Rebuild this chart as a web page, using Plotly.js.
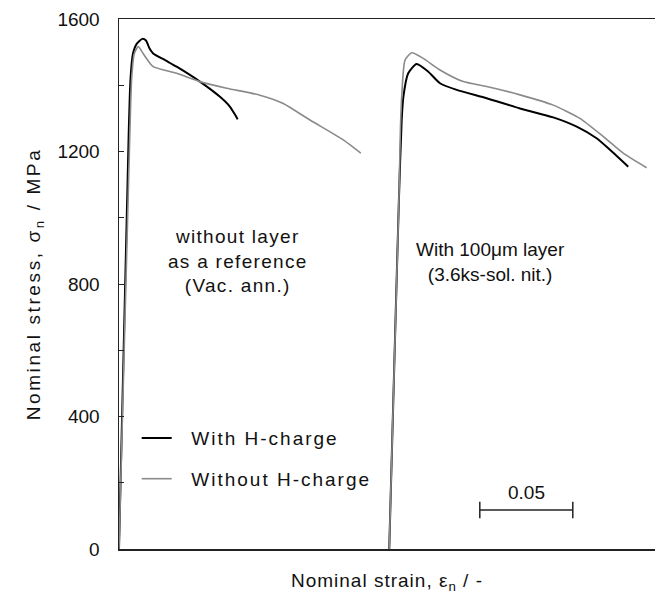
<!DOCTYPE html>
<html>
<head>
<meta charset="utf-8">
<script src="https://cdn.plot.ly/plotly-3.0.1.min.js"></script>
<style>
html,body{margin:0;padding:0;background:#fff;}
#chart{width:655px;height:596px;}
#chart .legendtext{letter-spacing:2px;}
#chart .legend .scrollbox{clip-path:none !important;}
#chart g.annotation[data-index="1"] .annotation-text{letter-spacing:1.3px;}
#chart .ytitle{letter-spacing:2.6px;}
#chart .xtitle{letter-spacing:1px;}
</style>
</head>
<body>
<div id="chart"></div>
<script>
// Group 1: without layer (reference, vacuum annealed)
const refHStrain = [0, 0.0052, 0.0062, 0.0075, 0.0095, 0.0125, 0.0145, 0.0165, 0.0184, 0.025, 0.031, 0.0435, 0.0543, 0.0597, 0.0625, 0.0638];
const refHStress = [0, 1250, 1420, 1495, 1525, 1540, 1535, 1510, 1496, 1475, 1456, 1411, 1365, 1335, 1310, 1297];
const refNoHStrain = [0, 0.0058, 0.0068, 0.0082, 0.0104, 0.0125, 0.0149, 0.0184, 0.031, 0.0435, 0.0579, 0.0758, 0.0883, 0.1027, 0.1206, 0.1300];
const refNoHStress = [0, 1250, 1420, 1495, 1517, 1500, 1480, 1456, 1436, 1411, 1391, 1370, 1345, 1295, 1235, 1195];
// Group 2: with 100 um layer (3.6ks solution nitriding)
const layHStrain = [0.1453, 0.1475, 0.1505, 0.152, 0.1529, 0.1555, 0.160, 0.1663, 0.1726, 0.1816, 0.1977, 0.2156, 0.2335, 0.2461, 0.2568, 0.264, 0.2738];
const layHStress = [0, 450, 1054, 1295, 1365, 1436, 1464, 1441, 1406, 1386, 1361, 1330, 1303, 1275, 1240, 1205, 1154];
const layNoHStrain = [0.1453, 0.1475, 0.1505, 0.1513, 0.152, 0.1538, 0.1574, 0.1636, 0.1726, 0.1851, 0.1977, 0.2156, 0.2335, 0.2478, 0.2604, 0.2711, 0.2837];
const layNoHStress = [0, 450, 1054, 1265, 1365, 1476, 1498, 1481, 1446, 1411, 1396, 1371, 1340, 1300, 1245, 1195, 1151];

const legendNames = ['With H-charge', 'Without H-charge'];
const yTickVals = [0, 400, 800, 1200, 1600];
const yTickText = ['0', '400', '800', '1200', '1600'];
const yMinorStep = 200;
const scaleBarStart = 0.194;
const scaleBarLength = 0.05;
const scaleBarStress = 118;
const scaleBarLabel = '0.05';

const black = '#000000', gray = '#8a8a8a';
const FONT = 'Liberation Sans, Arial, sans-serif';
const FS = 19;
const sp = '\u00a0\u00a0';
const pad = '\u00a0\u00a0\u00a0\u00a0\u00a0\u00a0';

const traces = [
  {x: refHStrain, y: refHStress, mode: 'lines', line: {color: black, width: 2, shape: 'spline', smoothing: 0.6}, name: sp + legendNames[0] + pad, legendgroup: 'h', showlegend: true},
  {x: layHStrain, y: layHStress, mode: 'lines', line: {color: black, width: 2, shape: 'spline', smoothing: 0.6}, name: legendNames[0], legendgroup: 'h', showlegend: false},
  {x: refNoHStrain, y: refNoHStress, mode: 'lines', line: {color: gray, width: 1.6, shape: 'spline', smoothing: 0.6}, name: sp + legendNames[1] + pad, legendgroup: 'n', showlegend: true},
  {x: layNoHStrain, y: layNoHStress, mode: 'lines', line: {color: gray, width: 1.6, shape: 'spline', smoothing: 0.6}, name: legendNames[1], legendgroup: 'n', showlegend: false}
];

const layout = {
  width: 655, height: 596,
  margin: {l: 119, r: 0, t: 19, b: 47},
  paper_bgcolor: '#fff', plot_bgcolor: '#fff',
  font: {family: FONT, size: FS, color: '#111'},
  showlegend: true,
  legend: {x: 0.033, y: 0.245, xanchor: 'left', yanchor: 'top', bgcolor: 'rgba(0,0,0,0)', traceorder: 'grouped', tracegroupgap: 13, font: {family: FONT, size: FS, color: '#111'}},
  xaxis: {
    range: [0, 0.2882], showgrid: false, zeroline: false, showticklabels: false, ticks: '',
    showline: true, linecolor: '#222', linewidth: 1.5, mirror: true,
    title: {text: 'Nominal strain, ε<sub>n</sub> / -', font: {family: FONT, size: FS, color: '#111'}, standoff: 24}
  },
  yaxis: {
    range: [0, 1600], showgrid: false, zeroline: false,
    tickmode: 'array', tickvals: yTickVals, ticktext: yTickText,
    ticks: 'inside', ticklen: 5, tickcolor: '#222', tickwidth: 1,
    minor: {dtick: yMinorStep, tick0: 0, ticks: 'inside', ticklen: 5, tickcolor: '#222', tickwidth: 1, showgrid: false},
    ticklabelstandoff: 14,
    showline: true, linecolor: '#222', linewidth: 1.5,
    tickfont: {family: FONT, size: FS, color: '#111'},
    title: {text: 'Nominal stress, σ<sub>n</sub> / MPa', font: {family: FONT, size: FS, color: '#111'}, standoff: 12}
  },
  shapes: [
    {type: 'line', xref: 'x', yref: 'y', x0: scaleBarStart, x1: scaleBarStart + scaleBarLength, y0: scaleBarStress, y1: scaleBarStress, line: {color: '#222', width: 1.5}},
    {type: 'line', xref: 'x', yref: 'y', x0: scaleBarStart, x1: scaleBarStart, y0: scaleBarStress - 25, y1: scaleBarStress + 25, line: {color: '#222', width: 1.5}},
    {type: 'line', xref: 'x', yref: 'y', x0: scaleBarStart + scaleBarLength, x1: scaleBarStart + scaleBarLength, y0: scaleBarStress - 25, y1: scaleBarStress + 25, line: {color: '#222', width: 1.5}}
  ],
  annotations: [
    {xref: 'x', yref: 'y', x: scaleBarStart + scaleBarLength / 2, y: scaleBarStress + 52, text: scaleBarLabel, showarrow: false, font: {family: FONT, size: FS, color: '#111'}},
    {xref: 'x', yref: 'y', x: 0.0635, y: 869, text: 'without layer<br>as a reference<br>(Vac. ann.)', showarrow: false, align: 'center', font: {family: FONT, size: FS, color: '#111'}},
    {xref: 'x', yref: 'y', x: 0.1995, y: 866, text: 'With 100μm layer<br>(3.6ks-sol. nit.)', showarrow: false, align: 'center', font: {family: FONT, size: FS, color: '#111'}}
  ]
};

Plotly.newPlot('chart', traces, layout, {displayModeBar: false, staticPlot: true});
</script>
</body>
</html>
